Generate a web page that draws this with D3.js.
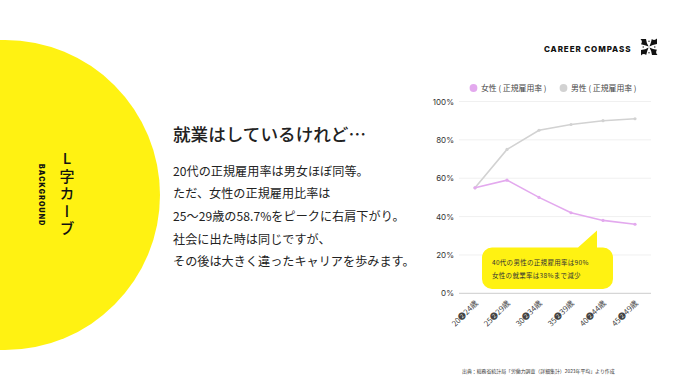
<!DOCTYPE html>
<html><head><meta charset="utf-8">
<script src="https://cdnjs.cloudflare.com/ajax/libs/d3/7.8.5/d3.min.js"></script>
<style>html,body{margin:0;padding:0;background:#fff;overflow:hidden}svg{display:block}
text{font-family:"Noto Sans CJK JP","Noto Sans",sans-serif}</style></head><body>
<svg id="c" width="690" height="390"></svg>
<script>
const categories=["20❷24歳","25❷29歳","30❷34歳","35❷39歳","40❷44歳","45❷49歳"];
const women=[55,59,50,42,38,36];
const men=[55,75,85,88,90,91];
const yTicks=[0,20,40,60,80,100];
const seriesNames=["女性 ( 正規雇用率 )","男性 ( 正規雇用率 )"];
const bodyLines=["20代の正規雇用率は男女ほぼ同等。","ただ、女性の正規雇用比率は","25〜29歳の58.7%をピークに右肩下がり。","社会に出た時は同じですが、","その後は大きく違ったキャリアを歩みます。"];
const noteLines=["40代の男性の正規雇用率は90%","女性の就業率は38%まで減少"];
const purple="#E3A9EE",grey="#D2D2D2",yellow="#FFF212";
const svg=d3.select("#c");
svg.append("circle").attr("cx",5).attr("cy",195).attr("r",155).attr("fill",yellow);
svg.append("text").attr("x",67).attr("y",151).style("writing-mode","vertical-rl").style("text-orientation","upright").attr("font-size",15).attr("font-weight",500).attr("fill","#111").attr("letter-spacing",2.5).text("L字カーブ");
svg.append("text").attr("transform","translate(41,164) rotate(90)").attr("font-size",7).attr("font-weight",900).attr("fill","#111").attr("dominant-baseline","central").attr("letter-spacing",1.15).style("font-family","Inter,sans-serif").text("BACKGROUND");
svg.append("text").attr("x",173).attr("y",140.5).attr("font-size",17.6).attr("font-weight",500).attr("fill","#222").text("就業はしているけれど…");
svg.selectAll("text.body").data(bodyLines).join("text").attr("class","body").attr("x",173).attr("y",(d,i)=>175.7+i*22.6).attr("font-size",12.1).attr("letter-spacing",.05).attr("fill","#222").text(d=>d);
svg.append("text").attr("x",544).attr("y",51.5).attr("font-size",8).attr("font-weight",800).attr("letter-spacing",.9).attr("fill","#111").style("font-family","Inter,sans-serif").text("CAREER COMPASS");
const lg=svg.append("g").attr("transform","translate(649,47)").attr("fill","#111");
[0,90,180,270].forEach(a=>{
 const g=lg.append("g").attr("transform",`rotate(${a})`);
 g.append("path").attr("d","M-8.5,-8 L-3,-8 Q-2.5,-3.5 -0.4,-0.4 Q-4,-2 -8,-2.8 Q-6,-5.5 -8.5,-8 Z");
 g.append("circle").attr("cx",0).attr("cy",-5.8).attr("r",.7);
});
const x=d3.scaleBand().domain(categories).range([459,651]);
const y=d3.scaleLinear().domain([0,100]).range([293.3,101.5]);
const gy=svg.append("g").attr("transform","translate(459,0)").call(d3.axisLeft(y).tickValues(yTicks).tickFormat(d=>d+"%").tickSize(0).tickPadding(5));
gy.select(".domain").remove();
gy.selectAll("text").attr("font-size",8).attr("fill","#333").style("font-family","Inter,sans-serif");
svg.append("g").selectAll("line").data(yTicks).join("line").attr("x1",459).attr("x2",651).attr("y1",d=>y(d)).attr("y2",d=>y(d)).attr("stroke",d=>d===0?"#ccc":"#f0f0f0").attr("stroke-width",1);
const gx=svg.append("g").attr("transform","translate(0,293.3)").call(d3.axisBottom(x).tickSize(0).tickPadding(0));
gx.select(".domain").remove();
gx.selectAll(".tick text").attr("font-size",7.8).attr("fill","#444").attr("text-anchor","end").attr("dy",0).attr("y",0).attr("transform","translate(1,8) rotate(-45)").attr("dominant-baseline","central");
const line=d3.line().x((d,i)=>x(categories[i])+x.bandwidth()/2).y(d=>y(d));
[[men,grey],[women,purple]].forEach(([s,c])=>{
 svg.append("path").attr("d",line(s)).attr("fill","none").attr("stroke",c).attr("stroke-width",1.6);
 svg.append("g").selectAll("circle").data(s).join("circle").attr("cx",(d,i)=>x(categories[i])+x.bandwidth()/2).attr("cy",d=>y(d)).attr("r",1.6).attr("fill",c);
});
svg.append("path").attr("d","M492,247.5H578L597,230.5V247.5H603a10,10 0 0 1 10,10V279a10,10 0 0 1 -10,10H492a10,10 0 0 1 -10,-10V257.5a10,10 0 0 1 10,-10Z").attr("fill",yellow);
svg.selectAll("text.note").data(noteLines).join("text").attr("class","note").attr("x",492).attr("y",(d,i)=>265+i*12.5).attr("font-size",6.5).attr("letter-spacing",.3).attr("fill","#333").text(d=>d);
seriesNames.forEach((n,i)=>{
 svg.append("circle").attr("cx",[473.5,563.5][i]).attr("cy",88).attr("r",3.9).attr("fill",[purple,grey][i]);
 svg.append("text").attr("x",[481,571][i]).attr("y",91).attr("font-size",7.85).attr("fill","#444").text(n);
});
svg.append("text").attr("x",462).attr("y",373).attr("font-size",4.9).attr("fill","#333").text("出典：総務省統計局「労働力調査（詳細集計）2023年平均」より作成");
</script></body></html>
